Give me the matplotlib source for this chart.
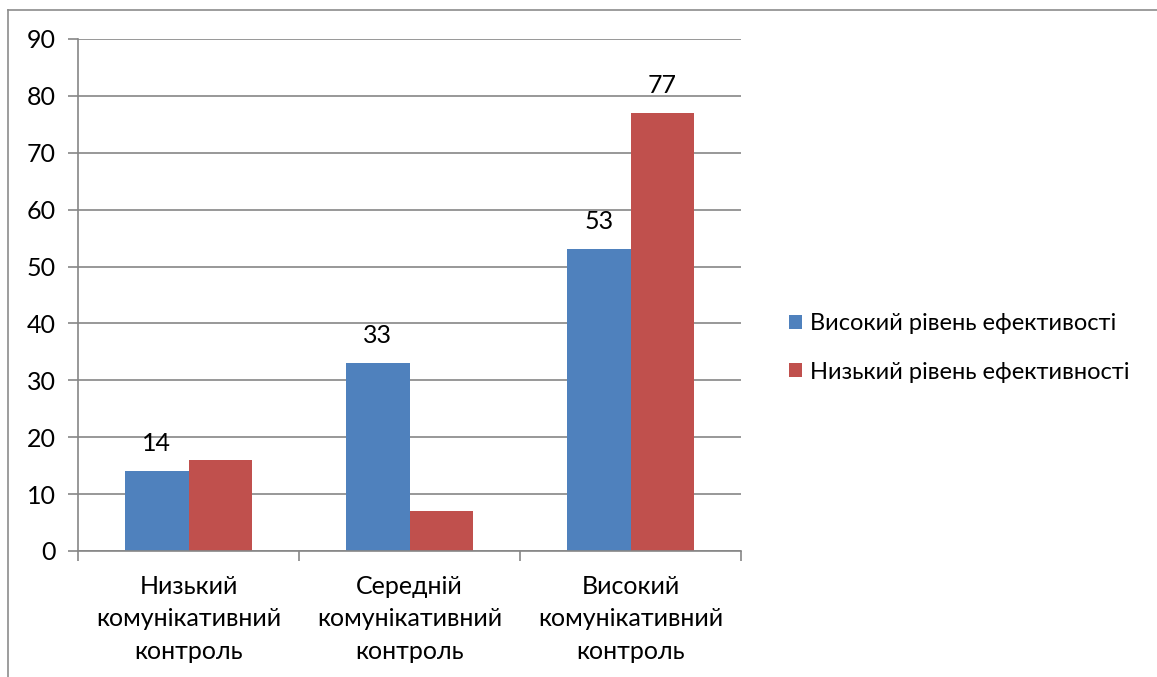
import matplotlib.pyplot as plt
from matplotlib.lines import Line2D
import numpy as np

plt.rcParams['font.family'] = ['Lato', 'DejaVu Sans']

categories = ['Низький\nкомунікативний\nконтроль',
              'Середній\nкомунікативний\nконтроль',
              'Високий\nкомунікативний\nконтроль']
high_eff = [14, 33, 53]
low_eff = [16, 7, 77]
series_names = ['Високий рівень ефективості', 'Низький рівень ефективності']
# which bars carry a value label
high_labels = [True, True, True]
low_labels = [False, False, True]

blue = '#4F81BD'
red = '#C0504D'
grid = '#868686'

W, H = 1157, 677
fig = plt.figure(figsize=(W / 100, H / 100), dpi=100)
ax = fig.add_axes([78 / W, 1 - 551 / H, (741 - 78) / W, (551 - 39) / H])

x = np.arange(len(categories))
bw = 1 / 3.5
b1 = ax.bar(x - bw / 2, high_eff, bw, color=blue, label=series_names[0])
b2 = ax.bar(x + bw / 2, low_eff, bw, color=red, label=series_names[1])

for bars, vals, show in ((b1, high_eff, high_labels), (b2, low_eff, low_labels)):
    for r, v, s in zip(bars, vals, show):
        if s:
            ax.annotate(str(v), (r.get_x() + r.get_width() / 2, v),
                        xytext=(0, 20), textcoords='offset points',
                        ha='center', va='center', fontsize=18)

ax.set_xlim(-0.5, 2.5)
ax.set_ylim(0, 90)
ax.set_yticks(range(0, 91, 10))
ax.yaxis.grid(True, color=grid, linewidth=1.2)
ax.set_axisbelow(True)

ax.set_xticks([-0.5, 0.5, 1.5, 2.5])
ax.set_xticklabels([])
ax.set_xticks(x, minor=True)
ax.set_xticklabels(categories, minor=True, fontsize=18, linespacing=1.5)
ax.tick_params(axis='x', which='minor', length=0, pad=17)
ax.tick_params(axis='x', which='major', length=7, width=1.2, color=grid)
ax.tick_params(axis='y', length=7, width=1.2, color=grid, labelsize=18, pad=9)

for side in ('top', 'right'):
    ax.spines[side].set_visible(False)
for side in ('left', 'bottom'):
    ax.spines[side].set_color(grid)
    ax.spines[side].set_linewidth(1.2)

ax.legend(loc='center left', bbox_to_anchor=(772 / W, 1 - 348 / H),
          bbox_transform=fig.transFigure, frameon=False, fontsize=17,
          handlelength=0.55, handleheight=0.55, handletextpad=0.35,
          labelspacing=1.15, borderpad=0.2)

# outer chart frame
fig.add_artist(Line2D([8 / W, 1], [1 - 10 / H, 1 - 10 / H], color='#8c8c8c', lw=1.2))
fig.add_artist(Line2D([8 / W, 8 / W], [0, 1 - 10 / H], color='#8c8c8c', lw=1.2))

fig.savefig('out.png', dpi=100)
